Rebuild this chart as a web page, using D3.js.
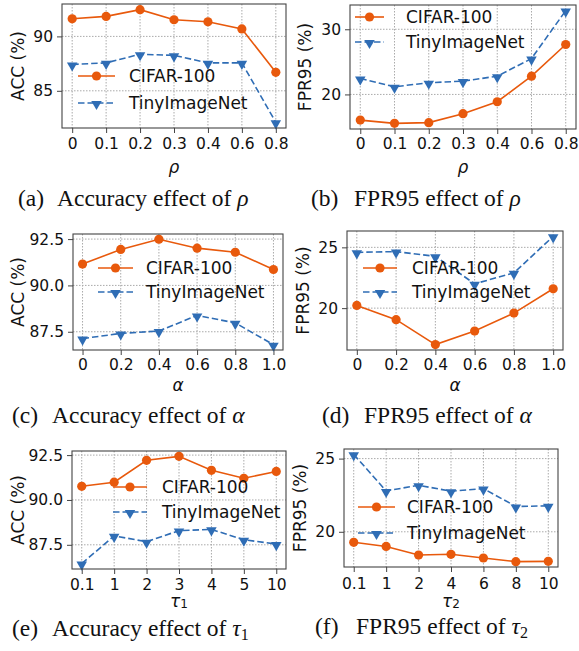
<!DOCTYPE html>
<html>
<head>
<meta charset="utf-8">
<script src="https://cdn.jsdelivr.net/npm/d3@7"></script>
<style>
  body { margin: 0; background: #fff; }
  svg { display: block; }
</style>
</head>
<body>
<svg id="chart" width="579" height="651"></svg>
<script>
// x tick labels
const rhoTicks = ["0", "0.1", "0.2", "0.3", "0.4", "0.6", "0.8"];
const alphaTicks = ["0", "0.2", "0.4", "0.6", "0.8", "1.0"];
const tau1Ticks = ["0.1", "1", "2", "3", "4", "5", "10"];
const tau2Ticks = ["0.1", "1", "2", "4", "6", "8", "10"];

// series values
const accRhoCifar = [91.62, 91.84, 92.46, 91.53, 91.34, 90.69, 86.7];
const accRhoTiny = [87.42, 87.57, 88.36, 88.26, 87.57, 87.57, 82.1];
const fprRhoCifar = [16.06, 15.56, 15.67, 17.04, 18.88, 22.8, 27.66];
const fprRhoTiny = [22.45, 21.18, 21.79, 22.04, 22.8, 25.5, 32.86];
const accAlphaCifar = [91.15, 91.94, 92.49, 92.01, 91.79, 90.86];
const accAlphaTiny = [87.13, 87.41, 87.54, 88.38, 87.98, 86.8];
const fprAlphaCifar = [20.22, 19.05, 17.0, 18.11, 19.59, 21.59];
const fprAlphaTiny = [24.59, 24.65, 24.26, 22.0, 22.9, 25.9];
const accTau1Cifar = [90.76, 90.99, 92.21, 92.43, 91.65, 91.21, 91.59];
const accTau1Tiny = [86.45, 88.0, 87.67, 88.29, 88.36, 87.78, 87.54];
const fprTau2Cifar = [19.28, 19.0, 18.41, 18.46, 18.21, 17.96, 17.98];
const fprTau2Tiny = [25.29, 22.79, 23.18, 22.77, 22.95, 21.73, 21.77];

// y tick values
const accTicks = [85, 90];
const fprRhoYTicks = [20, 30];
const accFineTicks = [87.5, 90, 92.5];
const fprTicks = [20, 25];

const seriesNames = ["CIFAR-100", "TinyImageNet"];
const orange = "#e8590c";
const blue = "#2f6db5";

// layout per panel (frame box, legend spot, caption)
const panels = [
  { x: rhoTicks, a: accRhoCifar, b: accRhoTiny, yt: accTicks, fmt: d3.format("d"), ylab: "ACC (%)",
    sym: "ρ", sub: null, tag: "(a)", cap: "Accuracy effect of ",
    box: [62, 4, 286, 128], leg: [78, 115, 129, 76, 103], tickY: 144, xlabY: 167, capX: [18, 57], capY: 206, ylabX: 18 },
  { x: rhoTicks, a: fprRhoCifar, b: fprRhoTiny, yt: fprRhoYTicks, fmt: d3.format("d"), ylab: "FPR95 (%)",
    sym: "ρ", sub: null, tag: "(b)", cap: "FPR95 effect of ",
    box: [350, 5, 576, 129], leg: [355, 384, 406, 17, 42], tickY: 144, xlabY: 167, capX: [311, 354], capY: 206, ylabX: 305 },
  { x: alphaTicks, a: accAlphaCifar, b: accAlphaTiny, yt: accFineTicks, fmt: d3.format(".1f"), ylab: "ACC (%)",
    sym: "α", sub: null, tag: "(c)", cap: "Accuracy effect of ",
    box: [73, 234, 283, 350], leg: [98, 133, 146, 268, 292], tickY: 365, xlabY: 385, capX: [12, 52], capY: 423, ylabX: 18 },
  { x: alphaTicks, a: fprAlphaCifar, b: fprAlphaTiny, yt: fprTicks, fmt: d3.format("d"), ylab: "FPR95 (%)",
    sym: "α", sub: null, tag: "(d)", cap: "FPR95 effect of ",
    box: [347, 231, 563, 350], leg: [363, 397, 412, 268, 292], tickY: 365, xlabY: 385, capX: [322, 364], capY: 423, ylabX: 303 },
  { x: tau1Ticks, a: accTau1Cifar, b: accTau1Tiny, yt: accFineTicks, fmt: d3.format(".1f"), ylab: "ACC (%)",
    sym: "τ", sub: "1", tag: "(e)", cap: "Accuracy effect of ",
    box: [72, 451, 286, 569], leg: [113, 147, 162, 487, 512], tickY: 585, xlabY: 601, capX: [12, 52], capY: 636, ylabX: 18 },
  { x: tau2Ticks, a: fprTau2Cifar, b: fprTau2Tiny, yt: fprTicks, fmt: d3.format("d"), ylab: "FPR95 (%)",
    sym: "τ", sub: "2", tag: "(f)", cap: "FPR95 effect of ",
    box: [344, 449, 558, 567], leg: [358, 395, 407, 507, 533], tickY: 584, xlabY: 601, capX: [315, 356], capY: 634, ylabX: 300 }
];

const svg = d3.select("#chart");
const sans = "DejaVu Sans, sans-serif";
const serif = "Liberation Serif, Times New Roman, serif";

const triangle = d3.symbol().type(d3.symbolTriangle).size(48);

function drawMarker(g, kind, cx, cy, color) {
  if (kind === "circle") {
    g.append("circle").attr("cx", cx).attr("cy", cy).attr("r", 4.6).attr("fill", color);
  } else {
    g.append("path").attr("d", triangle)
      .attr("transform", `translate(${cx},${cy + 1}) rotate(180)`)
      .attr("fill", color);
  }
}

panels.forEach(p => {
  const [x0, y0, x1, y1] = p.box;
  const n = p.x.length;
  const xScale = d3.scalePoint().domain(p.x).range([x0, x1]).padding(0.05 * (n - 1));
  const all = p.a.concat(p.b);
  const lo = d3.min(all), hi = d3.max(all), pad = (hi - lo) * 0.05;
  const yScale = d3.scaleLinear().domain([lo - pad, hi + pad]).range([y1, y0]);

  const g = svg.append("g");

  // grid
  g.selectAll(".gx").data(p.x).join("line")
    .attr("x1", d => xScale(d)).attr("x2", d => xScale(d))
    .attr("y1", y0).attr("y2", y1)
    .attr("stroke", "#aaa").attr("stroke-width", 1).attr("stroke-dasharray", "1.5,1.5");
  g.selectAll(".gy").data(p.yt).join("line")
    .attr("x1", x0).attr("x2", x1)
    .attr("y1", d => yScale(d)).attr("y2", d => yScale(d))
    .attr("stroke", "#aaa").attr("stroke-width", 1).attr("stroke-dasharray", "1.5,1.5");

  // axes
  const xAxis = g.append("g").attr("transform", `translate(0,${y1})`)
    .call(d3.axisBottom(xScale).tickSize(5).tickPadding(4));
  const yAxis = g.append("g").attr("transform", `translate(${x0},0)`)
    .call(d3.axisLeft(yScale).tickValues(p.yt).tickFormat(p.fmt).tickSize(5).tickPadding(4));
  [xAxis, yAxis].forEach(ax => {
    ax.select(".domain").remove();
    ax.selectAll("line").attr("stroke", "#444").attr("stroke-width", 1);
    ax.selectAll("text").attr("fill", "#111").style("font-family", sans).style("font-size", "15.5px");
  });
  xAxis.selectAll("text").attr("y", null).attr("dy", null)
    .attr("y", p.tickY - y1).attr("dominant-baseline", "central");

  // lines
  const line = d3.line().x((d, i) => xScale(p.x[i])).y(d => yScale(d));
  g.append("path").datum(p.b).attr("d", line).attr("fill", "none")
    .attr("stroke", blue).attr("stroke-width", 1.6).attr("stroke-dasharray", "6.5,3");
  g.append("path").datum(p.a).attr("d", line).attr("fill", "none")
    .attr("stroke", orange).attr("stroke-width", 1.6);
  p.b.forEach((v, i) => drawMarker(g, "tri", xScale(p.x[i]), yScale(v), blue));
  p.a.forEach((v, i) => drawMarker(g, "circle", xScale(p.x[i]), yScale(v), orange));

  // frame
  g.append("rect").attr("x", x0).attr("y", y0).attr("width", x1 - x0).attr("height", y1 - y0)
    .attr("fill", "none").attr("stroke", "#444").attr("stroke-width", 1.1);

  // legend
  const [lx0, lx1, tx, ly1, ly2] = p.leg;
  [[ly1, orange, "circle", null, seriesNames[0]], [ly2, blue, "tri", "6.5,3", seriesNames[1]]].forEach(([ly, c, k, dash, name]) => {
    g.append("line").attr("x1", lx0).attr("x2", lx1).attr("y1", ly).attr("y2", ly)
      .attr("stroke", c).attr("stroke-width", 1.6).attr("stroke-dasharray", dash);
    drawMarker(g, k, (lx0 + lx1) / 2, ly, c);
    g.append("text").attr("x", tx).attr("y", ly).attr("dominant-baseline", "central")
      .style("font-family", sans).style("font-size", "17px").attr("fill", "#111").text(name);
  });

  // y label
  g.append("text")
    .attr("transform", `translate(${p.ylabX},${(y0 + y1) / 2}) rotate(-90)`)
    .attr("text-anchor", "middle").attr("dominant-baseline", "central")
    .style("font-family", sans).style("font-size", "17px").attr("fill", "#111").text(p.ylab);

  // x label
  const xl = g.append("text").attr("x", (x0 + x1) / 2).attr("y", p.xlabY)
    .attr("text-anchor", "middle").attr("dominant-baseline", "central")
    .style("font-family", sans).style("font-size", "17px").attr("fill", "#111");
  xl.append("tspan").style("font-style", "italic").text(p.sym);
  if (p.sub) xl.append("tspan").attr("dy", 3).style("font-size", "12px").text(p.sub);

  // caption
  g.append("text").attr("x", p.capX[0]).attr("y", p.capY)
    .style("font-family", serif).style("font-size", "23.5px").attr("fill", "#111").text(p.tag);
  const ct = g.append("text").attr("x", p.capX[1]).attr("y", p.capY)
    .style("font-family", serif).style("font-size", "23.5px").attr("fill", "#111");
  ct.append("tspan").text(p.cap);
  ct.append("tspan").style("font-style", "italic").text(p.sym);
  if (p.sub) ct.append("tspan").attr("dy", 4).style("font-size", "16px").text(p.sub);
});
</script>
</body>
</html>
